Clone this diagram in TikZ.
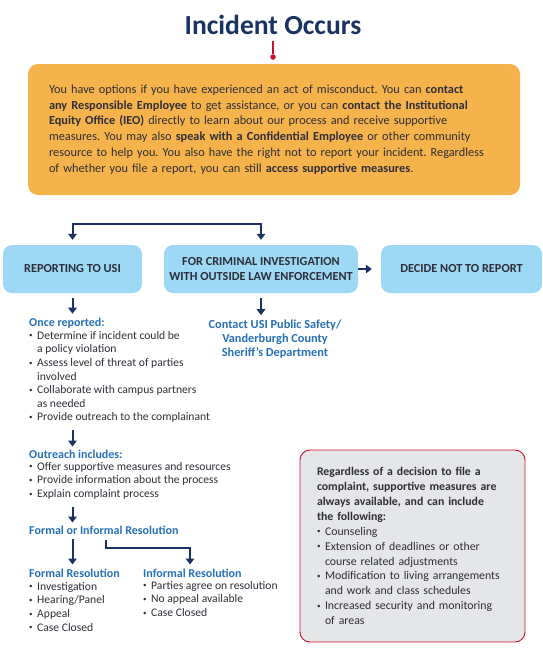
\documentclass[tikz,border=0pt]{standalone}
\usepackage{fontspec}
\setmainfont{Carlito}
\usetikzlibrary{positioning, arrows.meta}
\definecolor{navy}{HTML}{1A3362}
\definecolor{crimson}{HTML}{C8102E}
\definecolor{optorange}{HTML}{F6B34B}
\definecolor{pathblue}{HTML}{9DD8F4}
\definecolor{headblue}{HTML}{2670B8}
\definecolor{bodytext}{HTML}{2E2E38}
\definecolor{notegray}{HTML}{E5E6E8}
\newcommand{\bul}{\makebox[8pt][l]{\raisebox{0.25ex}{\fontsize{7}{7}\selectfont\textbullet}}}
\newcommand{\ind}{\hspace*{8pt}}
\frenchspacing

\begin{document}
\begin{tikzpicture}[x=1pt, y=-1pt]
	\tikzstyle{flow}=[-{Triangle[length=6pt,width=8.5pt]}, line width=2pt, draw=navy]
	\tikzstyle{pathbox}=[rectangle, rounded corners=9pt, fill=pathblue, minimum height=48pt, text=bodytext, font=\bfseries\fontsize{12.3}{14.5}\selectfont, align=center]
	\tikzstyle{head}=[anchor=west, inner sep=0pt, text=headblue, font=\bfseries\fontsize{12}{14}\selectfont]
	\tikzstyle{items}=[anchor=north west, inner sep=0pt, align=left, text=bodytext, font=\fontsize{11.6}{13.6}\selectfont]
	\useasboundingbox (0,0) rectangle (542,659);
	% top of the chart
	\node (title) at (273,25) [text=navy, font=\bfseries\fontsize{27.6}{30}\selectfont]{Incident Occurs};
	\node (dot) at (273,57) [circle, fill=crimson, inner sep=0pt, minimum size=5.5pt]{};
	\draw[crimson, line width=1.4pt, shorten <=3pt] (title.south) -- (dot);
	\node (opts) at (274,129.5) [rectangle, rounded corners=10pt, fill=optorange, minimum width=492pt, minimum height=131pt, text width=450pt, align=left, text=bodytext, font=\fontsize{12.3}{15.8}\selectfont]{You have options if you have experienced an act of misconduct. You can \textbf{contact}\\
		\textbf{any Responsible Employee} to get assistance, or you can \textbf{contact the Institutional}\\
		\textbf{Equity Office (IEO)} directly to learn about our process and receive supportive\\
		measures. You may also \textbf{speak with a Confidential Employee} or other community\\
		resource to help you. You also have the right not to report your incident. Regardless\\
		of whether you file a report, you can still \textbf{access supportive measures}.};
	% the three ways
	\node (usi) at (72.5,269) [pathbox, minimum width=139pt]{REPORTING TO USI};
	\node (crim) at (261,269) [pathbox, minimum width=194pt]{FOR CRIMINAL INVESTIGATION\\WITH OUTSIDE LAW ENFORCEMENT};
	\node (norep) at (461.5,269) [pathbox, minimum width=161pt]{DECIDE NOT TO REPORT};
	\coordinate (fork) at (167,224);
	\draw[flow, shorten >=5pt] (fork) -| (usi.north);
	\draw[flow, shorten >=5pt] (fork) -| (crim.north);
	\draw[flow, shorten >=9pt] (crim.east) -- (norep.west);
	% criminal side
	\node (contact) at (275,339) [text=headblue, align=center, font=\bfseries\fontsize{12.3}{14}\selectfont]{Contact USI Public Safety/\\Vanderburgh County\\Sheriff's Department};
	\draw[flow, shorten <=5pt, shorten >=1pt] (crim.south) -- (crim.south |- contact.north);
	% reporting side
	\node (once) at (29,323) [head]{Once reported:};
	\node (oncelist) at (29,331) [items]{\bul Determine if incident could be\\
		\ind a policy violation\\
		\bul Assess level of threat of parties\\
		\ind involved\\
		\bul Collaborate with campus partners\\
		\ind as needed\\
		\bul Provide outreach to the complainant};
	\node (outreach) at (29,454) [head]{Outreach includes:};
	\node (outlist) at (29,462) [items]{\bul Offer supportive measures and resources\\
		\bul Provide information about the process\\
		\bul Explain complaint process};
	\node (resol) at (29,530) [head]{Formal or Informal Resolution};
	\node (formal) at (29,573) [head]{Formal Resolution};
	\node (formlist) at (29,582) [items]{\bul Investigation\\
		\bul Hearing/Panel\\
		\bul Appeal\\
		\bul Case Closed};
	\node (informal) at (143,573) [head]{Informal Resolution};
	\node (inflist) at (143,581) [items]{\bul Parties agree on resolution\\
		\bul No appeal available\\
		\bul Case Closed};
	\draw[flow, shorten <=5pt, shorten >=4pt] (usi.south) -- (usi.south |- once.north);
	\draw[flow, shorten <=7pt, shorten >=3pt] (usi.south |- oncelist.south) -- (usi.south |- outreach.north);
	\draw[flow, shorten <=7pt, shorten >=3pt] (usi.south |- outlist.south) -- (usi.south |- resol.north);
	\draw[flow, shorten <=5pt, shorten >=4pt] (usi.south |- resol.south) -- (usi.south |- formal.north);
	\coordinate (elbow) at (106,540);
	\coordinate (bend) at (190,548);
	\draw[flow, shorten >=4pt] (elbow) |- (bend) -- (bend |- informal.north);
	% supportive measures note
	\node (note) at (412.5,546) [rectangle, rounded corners=10pt, draw=crimson, line width=0.9pt, fill=notegray, minimum width=225pt, minimum height=192pt, text width=191pt, align=left, text=bodytext, font=\fontsize{11.8}{14.9}\selectfont]{\textbf{Regardless of a decision to file a}\\
		\textbf{complaint, supportive measures are}\\
		\textbf{always available, and can include}\\
		\textbf{the following:}\\
		\bul Counseling\\
		\bul Extension of deadlines or other\\
		\ind course related adjustments\\
		\bul Modification to living arrangements\\
		\ind and work and class schedules\\
		\bul Increased security and monitoring\\
		\ind of areas};
\end{tikzpicture}
\end{document}
